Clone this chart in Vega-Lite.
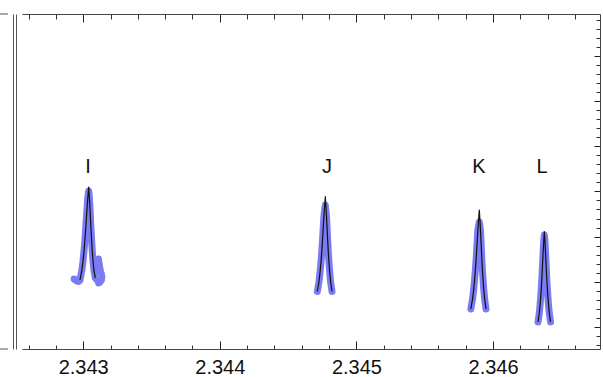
{
  "$schema": "https://vega.github.io/schema/vega-lite/v6.json",
  "width": 578,
  "height": 335,
  "autosize": {"type": "none"},
  "padding": {"left": 22, "top": 14, "right": 3, "bottom": 28},
  "background": "white",
  "config": {"view": {"stroke": null}, "axis": {"grid": false, "title": null}},
  "datasets": {
    "blue": [
      {"peak":"I","x":2.3429766,"y":69},{"peak":"I","x":2.3429897,"y":78.3},{"peak":"I","x":2.3429983,"y":87.6},{"peak":"I","x":2.3430050,"y":96.9},{"peak":"I","x":2.3430112,"y":106.2},{"peak":"I","x":2.3430161,"y":115.5},{"peak":"I","x":2.3430203,"y":124.8},{"peak":"I","x":2.3430250,"y":134.1},{"peak":"I","x":2.3430296,"y":143.4},{"peak":"I","x":2.3430346,"y":152.7},{"peak":"I","x":2.3430403,"y":158},
      {"peak":"I","x":2.3430446,"y":152.7},{"peak":"I","x":2.3430487,"y":143.4},{"peak":"I","x":2.3430519,"y":134.1},{"peak":"I","x":2.3430551,"y":124.8},{"peak":"I","x":2.3430589,"y":115.5},{"peak":"I","x":2.3430626,"y":106.2},{"peak":"I","x":2.3430671,"y":96.9},{"peak":"I","x":2.3430722,"y":87.6},{"peak":"I","x":2.3430792,"y":78.3},{"peak":"I","x":2.3430886,"y":71},
      {"peak":"J","x":2.3447137,"y":57.5},{"peak":"J","x":2.3447257,"y":67.0},{"peak":"J","x":2.3447336,"y":76.5},{"peak":"J","x":2.3447399,"y":86.0},{"peak":"J","x":2.3447454,"y":95.4},{"peak":"J","x":2.3447502,"y":104.9},{"peak":"J","x":2.3447541,"y":114.4},{"peak":"J","x":2.3447582,"y":123.9},{"peak":"J","x":2.3447623,"y":133.4},{"peak":"J","x":2.3447723,"y":144},
      {"peak":"J","x":2.3447806,"y":133.4},{"peak":"J","x":2.3447843,"y":123.9},{"peak":"J","x":2.3447875,"y":114.4},{"peak":"J","x":2.3447908,"y":104.9},{"peak":"J","x":2.3447948,"y":95.4},{"peak":"J","x":2.3447995,"y":86.0},{"peak":"J","x":2.3448047,"y":76.5},{"peak":"J","x":2.3448113,"y":67.0},{"peak":"J","x":2.3448213,"y":57.5},
      {"peak":"K","x":2.3458374,"y":40},{"peak":"K","x":2.3458500,"y":49.9},{"peak":"K","x":2.3458585,"y":59.8},{"peak":"K","x":2.3458651,"y":69.7},{"peak":"K","x":2.3458710,"y":79.6},{"peak":"K","x":2.3458762,"y":89.5},{"peak":"K","x":2.3458803,"y":99.4},{"peak":"K","x":2.3458847,"y":109.3},{"peak":"K","x":2.3458890,"y":119.2},{"peak":"K","x":2.3458996,"y":127},
      {"peak":"K","x":2.3459079,"y":119.2},{"peak":"K","x":2.3459116,"y":109.3},{"peak":"K","x":2.3459148,"y":99.4},{"peak":"K","x":2.3459181,"y":89.5},{"peak":"K","x":2.3459221,"y":79.6},{"peak":"K","x":2.3459268,"y":69.7},{"peak":"K","x":2.3459320,"y":59.8},{"peak":"K","x":2.3459386,"y":49.9},{"peak":"K","x":2.3459486,"y":40},
      {"peak":"L","x":2.3463294,"y":27},{"peak":"L","x":2.3463388,"y":36.0},{"peak":"L","x":2.3463450,"y":45.1},{"peak":"L","x":2.3463499,"y":54.1},{"peak":"L","x":2.3463543,"y":63.1},{"peak":"L","x":2.3463582,"y":72.2},{"peak":"L","x":2.3463612,"y":81.2},{"peak":"L","x":2.3463644,"y":90.2},{"peak":"L","x":2.3463677,"y":99.2},{"peak":"L","x":2.3463713,"y":108.3},{"peak":"L","x":2.3463755,"y":114},
      {"peak":"L","x":2.3463796,"y":108.3},{"peak":"L","x":2.3463832,"y":99.2},{"peak":"L","x":2.3463866,"y":90.2},{"peak":"L","x":2.3463896,"y":81.2},{"peak":"L","x":2.3463926,"y":72.2},{"peak":"L","x":2.3463964,"y":63.1},{"peak":"L","x":2.3464007,"y":54.1},{"peak":"L","x":2.3464054,"y":45.1},{"peak":"L","x":2.3464116,"y":36.0},{"peak":"L","x":2.3464209,"y":27}
    ],
    "blobs": [
      {"peak":"I","x":2.3429327,"y":70},{"peak":"I","x":2.3429436,"y":69},{"peak":"I","x":2.3429546,"y":68},{"peak":"I","x":2.3429656,"y":67.5},
      {"peak":"I","x":2.3431010,"y":69},{"peak":"I","x":2.3431120,"y":66},{"peak":"I","x":2.3431230,"y":67},{"peak":"I","x":2.3431340,"y":69},{"peak":"I","x":2.3431376,"y":72},{"peak":"I","x":2.3431340,"y":75},{"peak":"I","x":2.3431266,"y":78},{"peak":"I","x":2.3431230,"y":81},{"peak":"I","x":2.3431193,"y":84},{"peak":"I","x":2.3431157,"y":87},{"peak":"I","x":2.3431120,"y":90}
    ],
    "fit": [
      {"peak":"I","x":2.3429766,"y":69},{"peak":"I","x":2.3429894,"y":78.3},{"peak":"I","x":2.3429983,"y":87.6},{"peak":"I","x":2.3430052,"y":96.9},{"peak":"I","x":2.3430110,"y":106.2},{"peak":"I","x":2.3430161,"y":115.5},{"peak":"I","x":2.3430205,"y":124.8},{"peak":"I","x":2.3430250,"y":134.1},{"peak":"I","x":2.3430295,"y":143.4},{"peak":"I","x":2.3430346,"y":152.7},{"peak":"I","x":2.3430403,"y":162},
      {"peak":"I","x":2.3430446,"y":152.7},{"peak":"I","x":2.3430485,"y":143.4},{"peak":"I","x":2.3430519,"y":134.1},{"peak":"I","x":2.3430553,"y":124.8},{"peak":"I","x":2.3430587,"y":115.5},{"peak":"I","x":2.3430626,"y":106.2},{"peak":"I","x":2.3430669,"y":96.9},{"peak":"I","x":2.3430722,"y":87.6},{"peak":"I","x":2.3430790,"y":78.3},{"peak":"I","x":2.3430886,"y":71},
      {"peak":"J","x":2.3447137,"y":57.5},{"peak":"J","x":2.3447255,"y":67.0},{"peak":"J","x":2.3447336,"y":76.5},{"peak":"J","x":2.3447401,"y":86.0},{"peak":"J","x":2.3447454,"y":95.4},{"peak":"J","x":2.3447500,"y":104.9},{"peak":"J","x":2.3447541,"y":114.4},{"peak":"J","x":2.3447582,"y":123.9},{"peak":"J","x":2.3447623,"y":133.4},{"peak":"J","x":2.3447670,"y":142.8},{"peak":"J","x":2.3447723,"y":152.3},
      {"peak":"J","x":2.3447767,"y":142.8},{"peak":"J","x":2.3447806,"y":133.4},{"peak":"J","x":2.3447841,"y":123.9},{"peak":"J","x":2.3447875,"y":114.4},{"peak":"J","x":2.3447910,"y":104.9},{"peak":"J","x":2.3447948,"y":95.4},{"peak":"J","x":2.3447993,"y":86.0},{"peak":"J","x":2.3448047,"y":76.5},{"peak":"J","x":2.3448115,"y":67.0},{"peak":"J","x":2.3448213,"y":57.5},
      {"peak":"K","x":2.3458374,"y":40},{"peak":"K","x":2.3458498,"y":49.9},{"peak":"K","x":2.3458585,"y":59.8},{"peak":"K","x":2.3458653,"y":69.7},{"peak":"K","x":2.3458710,"y":79.6},{"peak":"K","x":2.3458760,"y":89.5},{"peak":"K","x":2.3458803,"y":99.4},{"peak":"K","x":2.3458847,"y":109.3},{"peak":"K","x":2.3458890,"y":119.2},{"peak":"K","x":2.3458940,"y":129.1},{"peak":"K","x":2.3458996,"y":139},
      {"peak":"K","x":2.3459040,"y":129.1},{"peak":"K","x":2.3459079,"y":119.2},{"peak":"K","x":2.3459114,"y":109.3},{"peak":"K","x":2.3459148,"y":99.4},{"peak":"K","x":2.3459183,"y":89.5},{"peak":"K","x":2.3459221,"y":79.6},{"peak":"K","x":2.3459266,"y":69.7},{"peak":"K","x":2.3459320,"y":59.8},{"peak":"K","x":2.3459388,"y":49.9},{"peak":"K","x":2.3459486,"y":40},
      {"peak":"L","x":2.3463294,"y":27},{"peak":"L","x":2.3463386,"y":36.0},{"peak":"L","x":2.3463450,"y":45.1},{"peak":"L","x":2.3463501,"y":54.1},{"peak":"L","x":2.3463543,"y":63.1},{"peak":"L","x":2.3463580,"y":72.2},{"peak":"L","x":2.3463612,"y":81.2},{"peak":"L","x":2.3463644,"y":90.2},{"peak":"L","x":2.3463677,"y":99.2},{"peak":"L","x":2.3463713,"y":108.3},{"peak":"L","x":2.3463755,"y":117.3},
      {"peak":"L","x":2.3463796,"y":108.3},{"peak":"L","x":2.3463832,"y":99.2},{"peak":"L","x":2.3463864,"y":90.2},{"peak":"L","x":2.3463896,"y":81.2},{"peak":"L","x":2.3463928,"y":72.2},{"peak":"L","x":2.3463964,"y":63.1},{"peak":"L","x":2.3464005,"y":54.1},{"peak":"L","x":2.3464054,"y":45.1},{"peak":"L","x":2.3464118,"y":36.0},{"peak":"L","x":2.3464209,"y":27}
    ],
    "labels": [
      {"label":"I","x":2.3430351,"y":182},{"label":"J","x":2.3447847,"y":182},{"label":"K","x":2.3458974,"y":182},{"label":"L","x":2.3463586,"y":182}
    ],
    "stubs": [
      {"x":2.342391,"x2":2.3424495,"y":335},{"x":2.342391,"x2":2.3424495,"y":0}
    ]
  },
  "resolve": {"axis": {"x": "independent", "y": "independent"}},
  "layer": [
    {
      "data": {"name": "blue"},
      "mark": {"type": "line", "color": "#7b7bf3", "strokeWidth": 7, "strokeCap": "round", "strokeJoin": "round"},
      "encoding": {
        "x": {"field": "x", "type": "quantitative", "scale": {"domain": [2.342552, 2.346783], "nice": false, "zero": false},
              "axis": {"orient": "bottom", "values": [2.343, 2.344, 2.345, 2.346], "format": ".3f", "tickSize": -8, "tickColor": "#222", "domain": true, "domainColor": "#444", "labelFont": "Liberation Sans", "labelFontSize": 20, "labelColor": "#111", "labelPadding": 16, "labelFlush": false}},
        "y": {"field": "y", "type": "quantitative", "scale": {"domain": [0, 335], "nice": false, "zero": false},
              "axis": {"orient": "right", "values": [22, 67.2, 112.4, 157.6, 202.8, 248, 293.2], "tickSize": -6, "tickColor": "#222", "labels": false, "domain": true, "domainColor": "#444"}},
        "detail": {"field": "peak"}
      }
    },
    {
      "data": {"name": "blobs"},
      "mark": {"type": "circle", "color": "#7b7bf3", "opacity": 1, "size": 46},
      "encoding": {
        "x": {"field": "x", "type": "quantitative", "scale": {"domain": [2.342552, 2.346783], "nice": false, "zero": false},
              "axis": {"orient": "bottom", "values": [2.3426, 2.3428, 2.3432, 2.3434, 2.3436, 2.3438, 2.3442, 2.3444, 2.3446, 2.3448, 2.3452, 2.3454, 2.3456, 2.3458, 2.3462, 2.3464, 2.3466], "tickSize": -4, "tickColor": "#333", "labels": false, "domain": false}},
        "y": {"field": "y", "type": "quantitative", "scale": {"domain": [0, 335], "nice": false, "zero": false},
              "axis": {"orient": "right", "values": [3.92, 12.96, 31.04, 40.08, 49.12, 58.16, 76.24, 85.28, 94.32, 103.36, 121.44, 130.48, 139.52, 148.56, 166.64, 175.68, 184.72, 193.76, 211.84, 220.88, 229.92, 238.96, 257.04, 266.08, 275.12, 284.16, 302.24, 311.28, 320.32, 329.36], "tickSize": -4, "tickColor": "#333", "labels": false, "domain": false}}
      }
    },
    {
      "data": {"name": "fit"},
      "mark": {"type": "line", "color": "#111", "strokeWidth": 1.2, "strokeJoin": "round"},
      "encoding": {
        "x": {"field": "x", "type": "quantitative", "scale": {"domain": [2.342552, 2.346783], "nice": false, "zero": false},
              "axis": {"orient": "top", "values": [2.343, 2.344, 2.345, 2.346], "tickSize": -8, "tickColor": "#222", "labels": false, "domain": true, "domainColor": "#444"}},
        "y": {"field": "y", "type": "quantitative", "scale": {"domain": [0, 335], "nice": false, "zero": false},
              "axis": {"orient": "left", "offset": 6, "ticks": false, "labels": false, "domain": true, "domainColor": "#555"}},
        "detail": {"field": "peak"}
      }
    },
    {
      "data": {"name": "labels"},
      "mark": {"type": "text", "font": "Liberation Sans", "fontSize": 20, "color": "#111", "align": "center", "baseline": "middle"},
      "encoding": {
        "x": {"field": "x", "type": "quantitative", "scale": {"domain": [2.342552, 2.346783], "nice": false, "zero": false},
              "axis": {"orient": "top", "values": [2.3426, 2.3428, 2.3432, 2.3434, 2.3436, 2.3438, 2.3442, 2.3444, 2.3446, 2.3448, 2.3452, 2.3454, 2.3456, 2.3458, 2.3462, 2.3464, 2.3466], "tickSize": -5, "tickColor": "#333", "labels": false, "domain": false}},
        "y": {"field": "y", "type": "quantitative", "scale": {"domain": [0, 335], "nice": false, "zero": false},
              "axis": {"orient": "left", "offset": 9, "ticks": false, "labels": false, "domain": true, "domainColor": "#555"}},
        "text": {"field": "label"}
      }
    },
    {
      "data": {"name": "stubs"},
      "mark": {"type": "rule", "color": "#555", "strokeWidth": 1},
      "encoding": {
        "x": {"field": "x", "type": "quantitative", "scale": {"domain": [2.342552, 2.346783], "nice": false, "zero": false}, "axis": null},
        "x2": {"field": "x2"},
        "y": {"field": "y", "type": "quantitative", "scale": {"domain": [0, 335], "nice": false, "zero": false}, "axis": null}
      }
    }
  ]
}
